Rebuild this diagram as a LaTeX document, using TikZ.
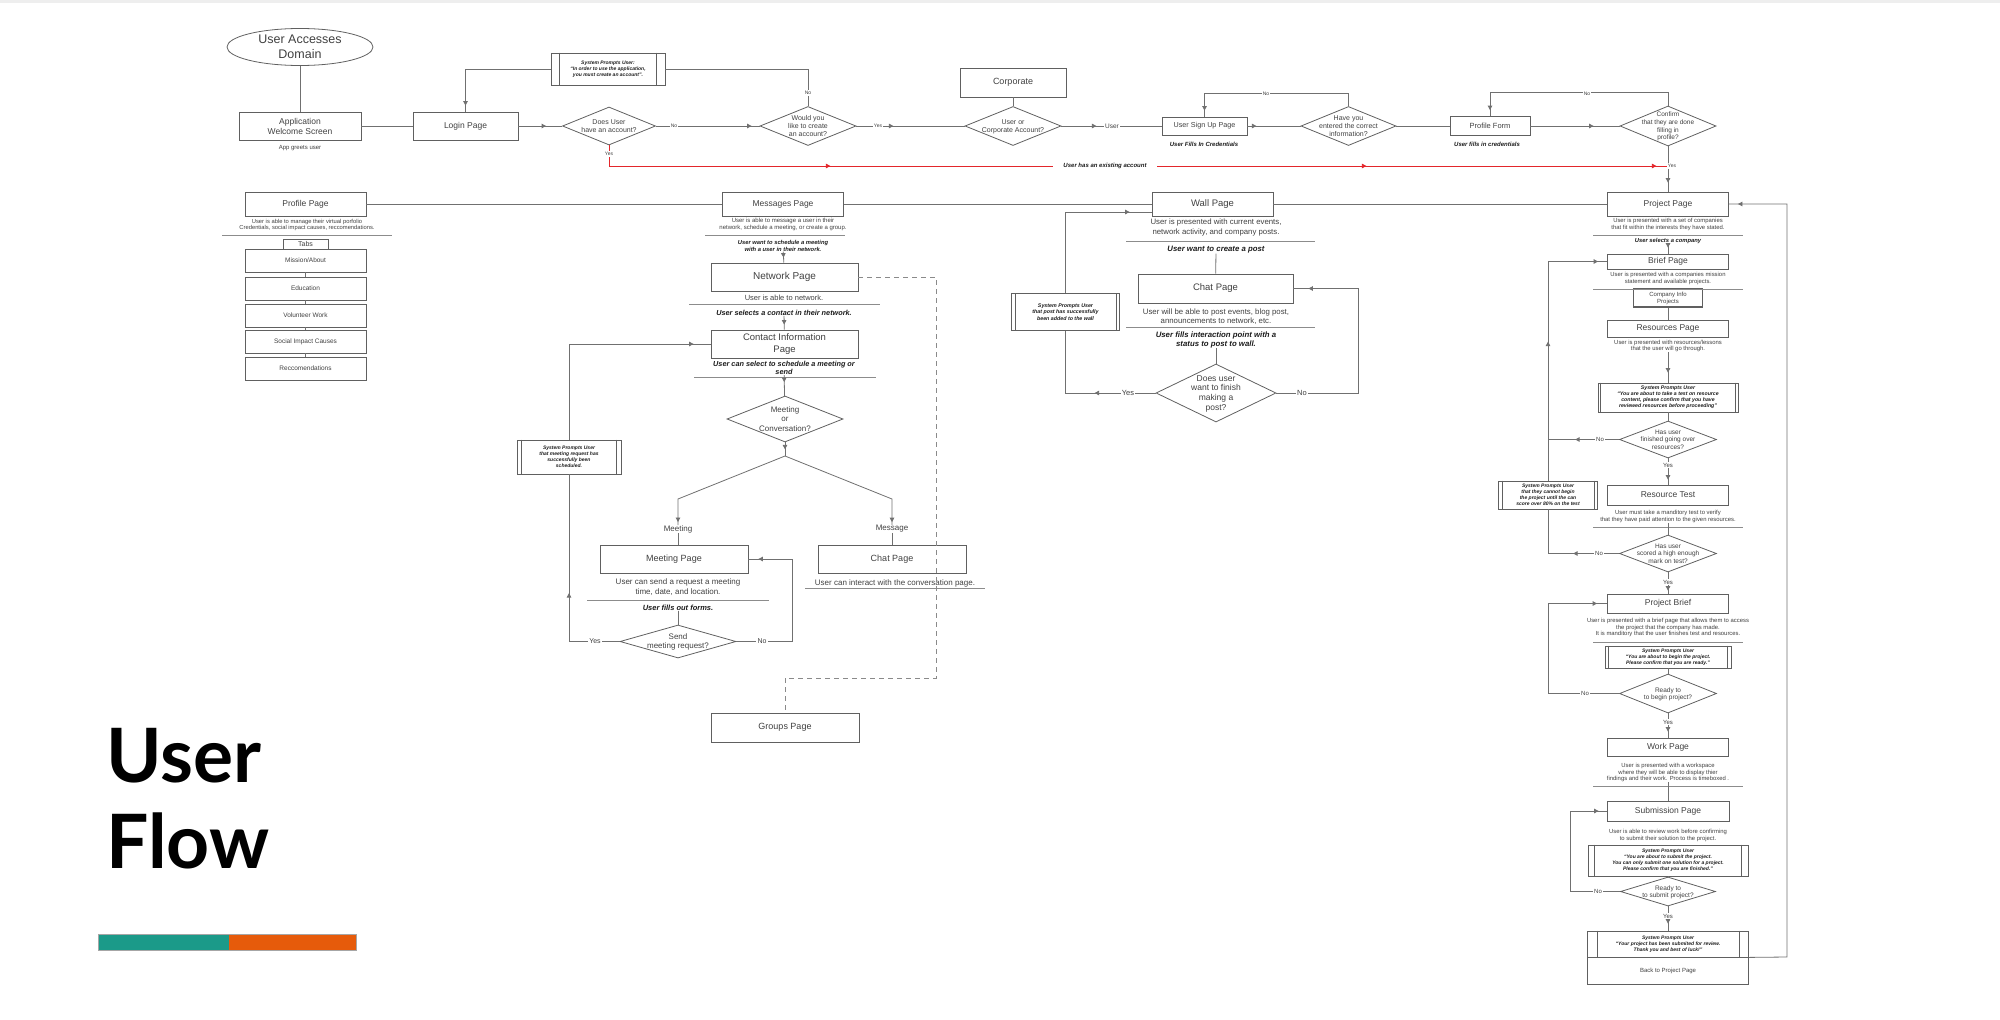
\documentclass[tikz,border=0pt]{standalone}
\usepackage{fontspec}
\setmainfont{Liberation Sans}
\newfontfamily\lato{Lato}
\usetikzlibrary{shapes.geometric,arrows.meta,decorations.markings}
\definecolor{lnc}{HTML}{707070}
\definecolor{bd}{HTML}{606060}
\definecolor{tx}{HTML}{404040}
\definecolor{tk}{HTML}{1C1C1C}
\definecolor{rdc}{HTML}{E3262B}
\definecolor{tealc}{HTML}{1B9A89}
\definecolor{orngc}{HTML}{E65B0B}
\definecolor{ulc}{HTML}{8C8C8C}
\definecolor{dsc}{HTML}{8A8A8A}
\newcommand\fz[1]{\fontsize{#1}{\fpeval{1.17*#1}}\selectfont}
\newcommand\dtxt[1]{\makebox[0pt]{\raisebox{-0.35em}[0pt][0pt]{\begin{tabular}{@{}c@{}}#1\end{tabular}}}}
\newcommand\vbars[2]{\draw[bd, line width=0.7pt] ([xshift=#2]#1.north west) -- ([xshift=#2]#1.south west) ([xshift=-#2]#1.north east) -- ([xshift=-#2]#1.south east);}
\tikzset{
  >={Triangle[length=4.5pt,width=4.5pt]},
  ln/.style={lnc, line width=0.8pt},
  ul/.style={draw=ulc, line width=0.7pt},
  box/.style={draw=bd, line width=0.8pt, rectangle, inner sep=0pt, align=center, text=tx, font=\fz{#1}},
  dia/.style={draw=bd, line width=0.8pt, diamond, inner sep=0pt, text=tx, font=\fz{#1}},
  pr/.style={draw=bd, line width=0.8pt, rectangle, inner sep=0pt, align=center, text=tk, font=\fz{#1}\bfseries\itshape},
  desc/.style={text=tx, align=center, inner sep=0pt, font=\fz{#1}},
  bi/.style={text=tk, align=center, inner sep=0pt, font=\fz{#1}\bfseries\itshape},
  lb/.style={fill=white, inner sep=1.2pt, text=tx, font=\fz{#1}},
  sz/.style 2 args={minimum width=#1, minimum height=#2},
  arrat/.style={postaction={decorate,decoration={markings,mark=at position #1 with {\arrow{>}}}}},
}
\begin{document}
\begin{tikzpicture}[x=1pt,y=-1pt]
\useasboundingbox (0,0) rectangle (2000,1020);
\fill[gray!13] (0,0) rectangle (2000,3);

% ================= nodes: top row
\node[ellipse, draw=bd, line width=0.8pt, minimum width=146, minimum height=37, inner sep=0pt, text=tx, font=\fz{12.5}] (uad) at (300,47) {\dtxt{User Accesses\\Domain}};
\node[box=8.5, sz={122}{28}] (aws) at (300,126) {Application\\Welcome Screen};
\node[desc=6] (agu) at (300,148) {App greets user};
\node[box=8.5, sz={105}{28}] (login) at (465.5,126) {Login Page};
\node[dia=7, sz={93}{38}] (d1) at (609,126) {\dtxt{Does User\\have an account?}};
\node[dia=7, sz={96}{39}] (d2) at (808,126) {\dtxt{Would you\\like to create\\an account?}};
\node[pr=5, sz={114}{32}] (sp1) at (608,69) {System Prompts User:\\“In order to use the application,\\you must create an account”.};
\node[box=9, sz={106}{29}] (corp) at (1013,82.5) {Corporate};
\node[dia=7, sz={96}{39}] (d3) at (1013,126) {\dtxt{User or\\Corporate Account?}};
\node[box=7.2, sz={85}{18}] (sign) at (1204.5,126) {User Sign Up Page};
\node[bi=6] (ufc) at (1204,144) {User Fills In Credentials};
\node[dia=7, sz={95}{39}] (d4) at (1348.5,126) {\dtxt{Have you\\entered the correct\\information?}};
\node[box=7.5, sz={80}{19}] (pform) at (1490,126) {Profile Form};
\node[bi=6] (ufc2) at (1487,144) {User fills in credentials};
\node[dia=6.5, sz={96}{40}] (d5) at (1668,126) {\dtxt{Confirm\\that they are done\\filling in\\profile?}};
\coordinate (redend) at (1668,166);

% ================= middle row
\node[box=8.5, sz={121}{24}] (prof) at (305.5,204) {Profile Page};
\node[box=8.5, sz={121}{24}] (msg) at (783,204) {Messages Page};
\node[box=9.5, sz={121}{24}] (wall) at (1212.5,204) {Wall Page};
\node[box=8.5, sz={121}{24}] (proj) at (1668,204) {Project Page};

% profile column
\node[desc=5.8] (profd) at (307,225) {User is able to manage their virtual porfolio\\Credentials, social impact causes, reccomendations.};
\node[box=7, sz={45}{10}] (tabs) at (305.5,244) {Tabs};
\node[box=6.5, sz={121}{23}] (t1) at (305.5,260.5) {Mission/About};
\node[box=6.5, sz={121}{23}] (t2) at (305.5,288.5) {Education};
\node[box=6.5, sz={121}{23}] (t3) at (305.5,315.5) {Volunteer Work};
\node[box=6.5, sz={121}{23}] (t4) at (305.5,341.5) {Social Impact Causes};
\node[box=6.5, sz={121}{23}] (t5) at (305.5,368.5) {Reccomendations};

% messages column
\node[desc=6] (msgd) at (783,224.5) {User is able to message a user in their\\network, schedule a meeting, or create a group.};
\node[bi=5.8] (msgb) at (783,246) {User want to schedule a meeting\\with a user in their network.};
\node[box=10, sz={147}{28}] (net) at (784.5,277) {Network Page};
\node[desc=7.5] (netd) at (784,297.5) {User is able to network.};
\node[bi=7.3] (netb) at (784,313) {User selects a contact in their network.};
\node[box=9.5, sz={147}{28}] (cont) at (784.5,344) {Contact Information\\Page};
\node[bi=7.3] (contb) at (784,368) {User can select to schedule a meeting or\\send};
\node[dia=8, sz={116}{46}] (mc) at (785,419) {\dtxt{Meeting\\or\\Conversation?}};
\coordinate (jn) at (785,456);
\node[desc=8] (lmeet) at (678,529) {Meeting};
\node[desc=8] (lmsg) at (892,529) {Message};
\node[box=9, sz={148}{28}] (meet) at (674,559) {Meeting Page};
\node[box=9, sz={148}{28}] (chat1) at (892,559) {Chat Page};
\node[desc=8] (meetd) at (678,587) {User can send a request a meeting\\time, date, and location.};
\node[bi=7.5] (meetb) at (678,608) {User fills out forms.};
\node[dia=8, sz={116}{33}] (smr) at (678,641.5) {\dtxt{Send\\meeting request?}};
\node[pr=5, sz={104}{34}] (sp2) at (569,457) {System Prompts User\\that meeting request has\\successfully been\\scheduled.};
\node[desc=8] (chat1d) at (895,583) {User can interact with the conversation page.};
\node[box=9, sz={148}{29}] (grp) at (785,727.5) {Groups Page};

% wall column
\node[desc=7.8] (walld) at (1216,227.5) {User is presented with current events,\\network activity, and company posts.};
\node[bi=7.8] (wallb) at (1216,250) {User want to create a post};
\node[box=9.5, sz={155}{29}] (chat2) at (1215.5,288.5) {Chat Page};
\node[desc=7.8] (chat2d) at (1216,316.5) {User will be able to post events, blog post,\\announcements to network, etc.};
\node[bi=7.8] (chat2b) at (1216,340) {User fills interaction point with a\\status to post to wall.};
\node[dia=8.5, sz={120}{58}] (fin) at (1216,393) {\dtxt{Does user\\want to finish\\making a\\post?}};
\node[pr=5.3, sz={108}{37}] (sp3) at (1065.5,312) {System Prompts User\\that post has successfully\\been added to the wall};

% project column
\node[desc=5.9] (projd) at (1668,224.5) {User is presented with a set of companies\\that fit within the interests they have stated.};
\node[bi=5.8] (projb) at (1668,240.5) {User selects a company};
\node[box=8.5, sz={121}{15}] (brief) at (1668,261.5) {Brief Page};
\node[desc=5.9] (briefd) at (1668,278.5) {User is presented with a companies mission\\statement and available projects.};
\node[box=6, sz={69}{18}, line width=1.1pt] (ci) at (1668,298) {Company Info\\Projects};
\node[box=8.5, sz={121}{17}] (res) at (1668,328.5) {Resources Page};
\node[desc=5.9] (resd) at (1668,346) {User is presented with resources/lessons\\that the user will go through.};
\node[pr=5.2, sz={140}{29}] (sp4) at (1668,397.5) {System Prompts User\\“You are about to take a test on resource\\content, please confirm that you have\\reviewed resources before proceeding”};
\node[dia=6.5, sz={97}{37}] (fgo) at (1668,439.5) {\dtxt{Has user\\finished going over\\resources?}};
\coordinate (jA) at (1548,439.5);
\node[box=8.5, sz={121}{20}] (rt) at (1668,495) {Resource Test};
\node[pr=5, sz={99}{28}] (sp5) at (1548,495) {System Prompts User\\that they cannot begin\\the project until the can\\score over 80\% on the test};
\node[desc=5.9] (rtd) at (1668,516.5) {User must take a manditory test to verify\\that they have paid attention to the given resources.};
\node[dia=6.5, sz={97}{37}] (hs) at (1668,553.5) {\dtxt{Has user\\scored a high enough\\mark on test?}};
\node[box=8.5, sz={121}{19}] (pb) at (1668,603.5) {Project Brief};
\node[desc=5.9] (pbd) at (1668,627.5) {User is presented with a brief page that allows them to access\\the project that the company has made.\\It is manditory that the user finishes test and resources.};
\node[pr=5, sz={126}{22}] (sp6) at (1668,657) {System Prompts User\\“You are about to begin the project.\\Please confirm that you are ready.”};
\node[dia=6.5, sz={97}{39}] (rb) at (1668,693.5) {\dtxt{Ready to\\to begin project?}};
\node[box=8.5, sz={121}{18}] (work) at (1668,747) {Work Page};
\node[desc=5.9] (workd) at (1668,772.5) {User is presented with a workspace\\where they will be able to display thier\\findings and their work. Process is timeboxed .};
\node[box=8.5, sz={122}{20}] (sub) at (1668,811) {Submission Page};
\node[desc=5.9] (subd) at (1668,835.5) {User is able to review work before confirming\\to submit their solution to the project.};
\node[pr=5, sz={160}{31}] (sp7) at (1668,860.5) {System Prompts User\\“You are about to submit the project.\\You can only submit one solution for a project.\\Please confirm that you are finished.”};
\node[dia=6.5, sz={95}{29}] (rs) at (1668,891.5) {\dtxt{Ready to\\to submit project?}};
\node[pr=5, sz={161}{26}] (fin2) at (1668,944) {System Prompts User\\“Your project has been submited for review.\\Thank you and best of luck!”};
\node[box=6, sz={161}{27}] (back) at (1668,970.5) {Back to Project Page};

\vbars{sp1}{9pt} \vbars{sp2}{5pt} \vbars{sp3}{4pt} \vbars{sp4}{3pt}
\vbars{sp5}{4pt} \vbars{sp6}{4pt} \vbars{sp7}{7pt} \vbars{fin2}{10pt}

% ================= underlines
\draw[ul] (222,235) -- (392,235);
\draw[ul] (705,235) -- (845,235);
\draw[ul] (689,304) -- (880,304);
\draw[ul] (694,377) -- (876,377);
\draw[ul] (587,600) -- (769,600);
\draw[ul] (805,588) -- (985,588);
\draw[ul] (1126,241) -- (1315,241);
\draw[ul] (1126,327) -- (1315,327);
\draw[ul] (1593,235) -- (1743,235);
\draw[ul] (1593,289) -- (1743,289);
\draw[ul] (1593,527) -- (1743,527);
\draw[ul] (1593,642) -- (1743,642);
\draw[ul] (1593,786) -- (1743,786);

% ================= connectors: top
\draw[ln] (uad) -- (aws);
\draw[ln] (aws) -- (login);
\draw[ln, arrat=-16pt] (login) -- (d1);
\draw[ln, arrat=-8pt] (d1) -- (d2);
\draw[ln, arrat=37pt] (d2) -- (d3);
\draw[ln] (corp) -- (d3);
\draw[ln, arrat=35pt] (d3) -- (sign);
\draw[ln, arrat=9pt] (sign) -- (d4);
\draw[ln, arrat=-6pt] (d4.north) -- ++(0,-13) -| (sign.north);
\draw[ln] (d4) -- (pform);
\draw[ln, arrat=-26pt] (pform) -- (d5);
\draw[ln, arrat=-6pt] (d5.north) -- ++(0,-13) -| (pform.north);
\draw[ln] (d2.north) |- (sp1.east);
\draw[ln, arrat=-6pt] (sp1.west) -| (login.north);
\draw[rdc, line width=0.8pt, arrat=242pt, arrat=778pt, arrat=1068pt] (d1.south) |- (redend);
\draw[ln, arrat=-9pt] (d5) -- (proj);

% middle row
\draw[ln] (prof) -- (msg);
\draw[ln] (msg) -- (wall);
\draw[ln] (wall) -- (proj);
\draw[ln] (tabs) -- (t1);
\draw[ln] (t1) -- (t2);
\draw[ln] (t2) -- (t3);
\draw[ln] (t3) -- (t4);
\draw[ln] (t4) -- (t5);

% messages
\draw[ln, arrat=-5pt] (msgb) -- (net);
\draw[ln, arrat=-5pt] (netb) -- (cont);
\draw[ln, arrat=7pt] (contb) -- (mc);
\draw[ln, arrat=7pt] (mc.south) -- (jn);
\draw[ln, arrat=-3pt] (jn) -- (678,499) -- (lmeet.north);
\draw[ln, arrat=-3pt] (jn) -- (892,499) -- (lmsg.north);
\draw[ln] (lmeet.south) -- (lmeet.south |- meet.north);
\draw[ln] (lmsg) -- (chat1);
\draw[ln] (meetb) -- (smr);
\draw[ln, arrat=99pt] (smr.west) -| (sp2.south);
\draw[ln, arrat=-17pt] (sp2.north) |- (cont.west);
\draw[ln, arrat=-10pt] (smr.east) -- (792,641.5) |- (meet.east);
\draw[dsc, line width=0.8pt, dash pattern=on 5pt off 4pt] (net.east) -- (936,277) -- (936,678) -| (grp.north);

% wall
\draw[ln] (wallb) -- (chat2);
\draw[ln] (chat2b) -- (fin);
\draw[ln, arrat=61pt] (fin.west) -| (sp3.south);
\draw[ln, arrat=-22pt] (sp3.north) |- ([yshift=-8pt]wall.west);
\draw[ln, arrat=-15pt] (fin.east) -- ++(82,0) |- (chat2.east);

% project column
\draw[ln, arrat=-6pt] (projb) -- (brief);
\draw[ln] (ci) -- (res);
\draw[ln, arrat=-10pt] (resd) -- (sp4);
\draw[ln] (sp4) -- (fgo);
\draw[ln, arrat=44pt] (fgo.west) -- (jA);
\draw[ln, arrat=-5pt] (fgo) -- (rt);
\draw[ln] (rtd) -- (hs);
\draw[ln, arrat=46pt] (hs.west) -| (sp5.south);
\draw[ln, arrat=139pt, arrat=-9pt] (sp5.north) |- (brief.west);
\draw[ln, arrat=-3pt] (hs) -- (pb);
\draw[ln] (sp6) -- (rb);
\draw[ln, arrat=-10pt] (rb.west) -- (1548,693.5) |- (pb.west);
\draw[ln, arrat=-6pt] (rb) -- (work);
\draw[ln] (workd) -- (sub);
\draw[ln] (sp7) -- (rs);
\draw[ln, arrat=-8pt] (rs.west) -- (1570,891.5) |- (sub.west);
\draw[ln, arrat=-7pt] (rs) -- (fin2);
\draw[ln, arrat=-9pt] (fin2.south east) -- (1787,957) |- (proj.east);

% ================= labels on lines
\node[lb=5] (l1) at (674,126) {No};
\node[lb=5] (l2) at (878,126) {Yes};
\node[lb=5] (l3) at (808,93) {No};
\node[lb=5] (l4) at (609,154) {Yes};
\node[lb=6.5] (l5) at (1112,126) {User};
\node[lb=5] (l6) at (1266,94) {No};
\node[lb=5] (l7) at (1587,94) {No};
\node[lb=5] (l8) at (1672,166) {Yes};
\node[bi=6, fill=white, inner xsep=10pt, inner ysep=1pt] (uhe) at (1105,166) {User has an existing account};
\node[lb=7] (l9) at (595,641.5) {Yes};
\node[lb=7] (l10) at (762,641.5) {No};
\node[lb=7.5] (l11) at (1128,393) {Yes};
\node[lb=7.5] (l12) at (1302,393) {No};
\node[lb=6] (l13) at (1600,439.5) {No};
\node[lb=6] (l14) at (1668,465) {Yes};
\node[lb=6] (l15) at (1599,553.5) {No};
\node[lb=6] (l16) at (1668,582) {Yes};
\node[lb=6] (l17) at (1585,693.5) {No};
\node[lb=6] (l18) at (1668,722) {Yes};
\node[lb=6] (l19) at (1598,891.5) {No};
\node[lb=6] (l20) at (1668,916) {Yes};

% ================= title and bar
\node[anchor=base west, inner sep=0pt, font=\lato\bfseries\fontsize{75}{86}\selectfont] (tu) at (106,782) {User};
\node[anchor=base west, inner sep=0pt, font=\lato\bfseries\fontsize{75}{86}\selectfont] (tf) at (106,868) {Flow};
\fill[tealc] (98,934) rectangle (229,950);
\fill[orngc] (229,934) rectangle (356,950);
\draw[gray!70, line width=0.5pt] (98,934) rectangle (356,950);
\end{tikzpicture}
\end{document}
